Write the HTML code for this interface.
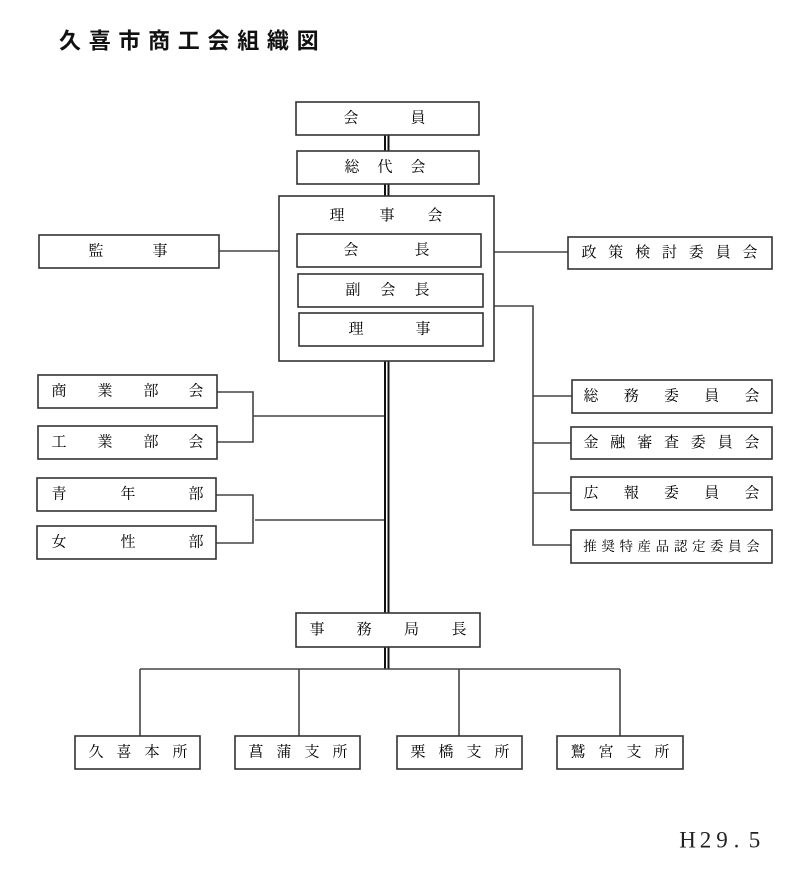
<!DOCTYPE html>
<html lang="ja">
<head>
<meta charset="utf-8">
<style>
html,body{margin:0;padding:0;background:#fff;}
svg{display:block;}
.t{font-family:"Liberation Serif","Noto Serif CJK JP","Noto Serif CJK SC",serif;font-size:15px;fill:#000;}
.s{font-family:"Liberation Serif","Noto Serif CJK JP","Noto Serif CJK SC",serif;font-size:13.5px;fill:#000;}
.ti{font-family:"Liberation Sans","Noto Sans CJK JP",sans-serif;font-size:22px;font-weight:700;fill:#111;}
.h{font-family:"Liberation Serif",serif;font-size:23px;fill:#222;}
</style>
</head>
<body>
<svg width="800" height="869" viewBox="0 0 800 869" xmlns="http://www.w3.org/2000/svg">
<rect width="800" height="869" fill="#fff"/>

<!-- title -->
<g class="ti" text-anchor="middle" dominant-baseline="central">
<text x="70" y="41">久</text><text x="99.7" y="41">喜</text><text x="129.4" y="41">市</text>
<text x="159.1" y="41">商</text><text x="188.8" y="41">工</text><text x="218.5" y="41">会</text>
<text x="248.2" y="41">組</text><text x="277.9" y="41">織</text><text x="307.6" y="41">図</text>
</g>

<!-- double main line -->
<g stroke="#111" stroke-width="2" fill="none">
  <line x1="385" y1="135" x2="385" y2="151"/><line x1="388.5" y1="135" x2="388.5" y2="151"/>
  <line x1="385" y1="184" x2="385" y2="196"/><line x1="388.5" y1="184" x2="388.5" y2="196"/>
  <line x1="385" y1="361" x2="385" y2="613"/><line x1="388.5" y1="361" x2="388.5" y2="613"/>
  <line x1="385" y1="647" x2="385" y2="669"/><line x1="388.5" y1="647" x2="388.5" y2="669"/>
</g>

<!-- connectors -->
<g stroke="#444" stroke-width="1.6" fill="none">
  <line x1="219" y1="251" x2="297" y2="251"/>
  <line x1="481" y1="252" x2="568" y2="252"/>
  <polyline points="494,306 533,306 533,545 571,545"/>
  <line x1="533" y1="396" x2="572" y2="396"/>
  <line x1="533" y1="443" x2="571" y2="443"/>
  <line x1="533" y1="493" x2="571" y2="493"/>
  <polyline points="217,392 253,392 253,442 217,442"/>
  <line x1="253" y1="416" x2="384" y2="416"/>
  <polyline points="216,495 253,495 253,543 216,543"/>
  <line x1="255" y1="520" x2="384" y2="520"/>
  <line x1="140" y1="669" x2="620" y2="669"/>
  <line x1="140" y1="669" x2="140" y2="736"/>
  <line x1="299" y1="669" x2="299" y2="736"/>
  <line x1="459" y1="669" x2="459" y2="736"/>
  <line x1="620" y1="669" x2="620" y2="736"/>
</g>

<!-- boxes -->
<g stroke="#333" stroke-width="1.6" fill="#fff">
  <rect x="296" y="102" width="183" height="33"/>
  <rect x="297" y="151" width="182" height="33"/>
  <rect x="279" y="196" width="215" height="165"/>
  <rect x="297" y="234" width="184" height="33"/>
  <rect x="298" y="274" width="185" height="33"/>
  <rect x="299" y="313" width="184" height="33"/>
  <rect x="39" y="235" width="180" height="33"/>
  <rect x="568" y="237" width="204" height="32"/>
  <rect x="572" y="380" width="200" height="33"/>
  <rect x="571" y="427" width="201" height="32"/>
  <rect x="571" y="477" width="201" height="33"/>
  <rect x="571" y="530" width="201" height="33"/>
  <rect x="38" y="375" width="179" height="33"/>
  <rect x="38" y="426" width="179" height="33"/>
  <rect x="37" y="478" width="179" height="33"/>
  <rect x="37" y="526" width="179" height="33"/>
  <rect x="296" y="613" width="184" height="34"/>
  <rect x="75" y="736" width="125" height="33"/>
  <rect x="235" y="736" width="125" height="33"/>
  <rect x="397" y="736" width="125" height="33"/>
  <rect x="557" y="736" width="126" height="33"/>
</g>

<!-- box text -->
<g class="t" text-anchor="middle" dominant-baseline="central">
  <text x="351" y="118.5">会</text><text x="418" y="118.5">員</text>
  <text x="352" y="167.5">総</text><text x="385" y="167.5">代</text><text x="418" y="167.5">会</text>
  <text x="337" y="216">理</text><text x="387" y="216">事</text><text x="435" y="216">会</text>
  <text x="351" y="250.5">会</text><text x="422" y="250.5">長</text>
  <text x="353" y="290.5">副</text><text x="388" y="290.5">会</text><text x="422" y="290.5">長</text>
  <text x="356" y="329.5">理</text><text x="423" y="329.5">事</text>
  <text x="96" y="251.5">監</text><text x="160" y="251.5">事</text>

  <text x="589" y="253">政</text><text x="615.8" y="253">策</text><text x="642.7" y="253">検</text>
  <text x="669.5" y="253">討</text><text x="696.3" y="253">委</text><text x="723.2" y="253">員</text><text x="750" y="253">会</text>

  <text x="591" y="396.5">総</text><text x="631.25" y="396.5">務</text><text x="671.5" y="396.5">委</text>
  <text x="711.75" y="396.5">員</text><text x="752" y="396.5">会</text>

  <text x="591" y="443">金</text><text x="617.8" y="443">融</text><text x="644.7" y="443">審</text>
  <text x="671.5" y="443">査</text><text x="698.3" y="443">委</text><text x="725.2" y="443">員</text><text x="752" y="443">会</text>

  <text x="591" y="493.5">広</text><text x="631.25" y="493.5">報</text><text x="671.5" y="493.5">委</text>
  <text x="711.75" y="493.5">員</text><text x="752" y="493.5">会</text>

  <text x="59" y="391.5">商</text><text x="105" y="391.5">業</text><text x="151" y="391.5">部</text><text x="196" y="391.5">会</text>
  <text x="59" y="442.5">工</text><text x="105" y="442.5">業</text><text x="151" y="442.5">部</text><text x="196" y="442.5">会</text>
  <text x="59" y="494.5">青</text><text x="128" y="494.5">年</text><text x="196" y="494.5">部</text>
  <text x="59" y="542.5">女</text><text x="128" y="542.5">性</text><text x="196" y="542.5">部</text>

  <text x="317" y="630">事</text><text x="364" y="630">務</text><text x="411.5" y="630">局</text><text x="459" y="630">長</text>

  <text x="96" y="752.5">久</text><text x="124" y="752.5">喜</text><text x="152" y="752.5">本</text><text x="180" y="752.5">所</text>
  <text x="256" y="752.5">菖</text><text x="284" y="752.5">蒲</text><text x="312" y="752.5">支</text><text x="340" y="752.5">所</text>
  <text x="418" y="752.5">栗</text><text x="446" y="752.5">橋</text><text x="474" y="752.5">支</text><text x="502" y="752.5">所</text>
  <text x="578" y="752.5">鷲</text><text x="606" y="752.5">宮</text><text x="634" y="752.5">支</text><text x="662" y="752.5">所</text>
</g>
<g class="s" text-anchor="middle" dominant-baseline="central">
  <text x="590" y="546.5">推</text><text x="608.1" y="546.5">奨</text><text x="626.2" y="546.5">特</text>
  <text x="644.3" y="546.5">産</text><text x="662.4" y="546.5">品</text><text x="680.6" y="546.5">認</text>
  <text x="698.7" y="546.5">定</text><text x="716.8" y="546.5">委</text><text x="734.9" y="546.5">員</text><text x="753" y="546.5">会</text>
</g>

<!-- date -->
<g class="h" text-anchor="middle" dominant-baseline="central">
  <text x="687.5" y="840">H</text><text x="705.5" y="840">2</text><text x="722" y="840">9</text>
  <text x="736.5" y="840">.</text><text x="754.5" y="840">5</text>
</g>
</svg>
</body>
</html>
